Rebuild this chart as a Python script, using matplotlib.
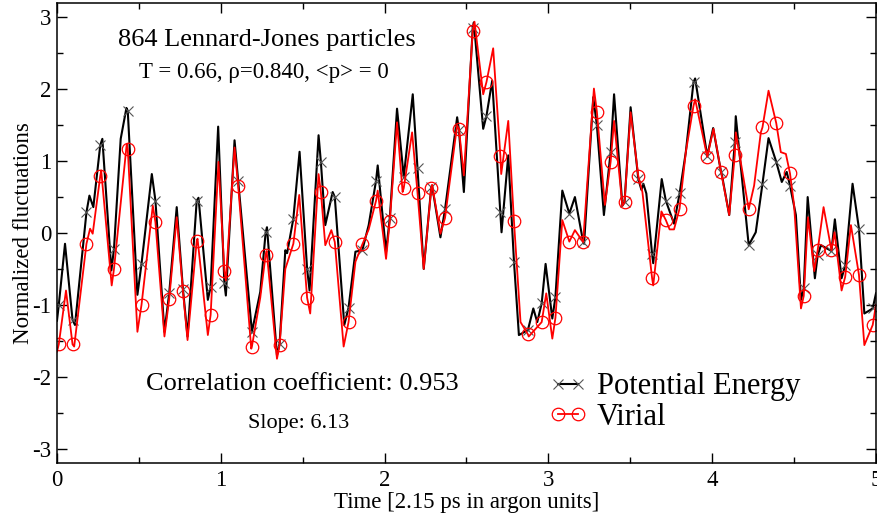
import numpy as np
import matplotlib
matplotlib.use("Agg")
from matplotlib import pyplot as plt
from matplotlib.ticker import MultipleLocator

# times where both curves carry a symbol
mark_t = [0.011, 0.095, 0.180, 0.264, 0.348, 0.432, 0.516, 0.601, 0.685, 0.769,
          0.853, 0.938, 1.022, 1.106, 1.190, 1.274, 1.359, 1.443, 1.527, 1.611,
          1.696, 1.780, 1.864, 1.948, 2.032, 2.117, 2.201, 2.285, 2.369, 2.454,
          2.538, 2.622, 2.707, 2.790, 2.875, 2.959, 3.043, 3.128, 3.212, 3.296,
          3.380, 3.465, 3.549, 3.633, 3.717, 3.801, 3.886, 3.970, 4.054, 4.138,
          4.223, 4.307, 4.391, 4.475, 4.559, 4.644, 4.728, 4.812, 4.896, 4.980]

# potential energy fluctuations (time, value)
pe_points = [
    (0.000, -1.22), (0.011, -1.00), (0.049, -0.15), (0.095, -1.21), (0.110, -1.28),
    (0.180, 0.29), (0.198, 0.52), (0.222, 0.36), (0.264, 1.22), (0.277, 1.31),
    (0.332, -0.52), (0.348, -0.22), (0.389, 1.31), (0.424, 1.74), (0.432, 1.70),
    (0.491, -0.86), (0.516, -0.43), (0.579, 0.82), (0.601, 0.45), (0.656, -1.375),
    (0.685, -0.84), (0.731, 0.36), (0.769, -0.78), (0.797, -1.44), (0.853, 0.45),
    (0.864, 0.49), (0.921, -0.93), (0.938, -0.75), (0.984, 1.48), (1.022, -0.70),
    (1.031, -0.87), (1.084, 1.29), (1.106, 0.73), (1.190, -1.375), (1.241, -0.82),
    (1.274, 0.01), (1.282, 0.08), (1.343, -1.70), (1.359, -1.54), (1.394, -0.24),
    (1.405, -0.28), (1.443, 0.20), (1.481, 1.13), (1.527, -0.50), (1.542, -0.80),
    (1.597, 1.36), (1.611, 0.99), (1.638, 0.11), (1.683, 0.57), (1.696, 0.50),
    (1.754, -1.28), (1.780, -1.04), (1.822, -0.26), (1.864, -0.24), (1.903, 0.11),
    (1.948, 0.73), (1.958, 0.94), (2.009, -0.26), (2.032, 0.21), (2.076, 1.73),
    (2.117, 0.78), (2.172, 1.93), (2.201, 0.90), (2.239, -0.50), (2.285, 0.64),
    (2.290, 0.66), (2.341, -0.06), (2.369, 0.33), (2.443, 1.61), (2.454, 1.43),
    (2.484, 0.57), (2.538, 2.85), (2.545, 2.93), (2.602, 1.45), (2.622, 1.63),
    (2.657, 2.12), (2.707, 0.29), (2.714, 0.01), (2.755, 1.08), (2.790, -0.40),
    (2.820, -1.42), (2.875, -1.35), (2.908, -1.05), (2.932, -1.24), (2.959, -0.98),
    (2.983, -0.43), (3.024, -1.19), (3.043, -0.89), (3.085, 0.59), (3.128, 0.27),
    (3.162, 0.50), (3.212, -0.12), (3.218, -0.15), (3.274, 1.89), (3.296, 1.50),
    (3.339, 0.25), (3.380, 1.125), (3.401, 1.93), (3.452, 0.38), (3.465, 0.43),
    (3.502, 1.75), (3.549, 0.75), (3.568, 0.60), (3.580, 0.685), (3.598, 0.55),
    (3.633, -0.29), (3.640, -0.42), (3.692, 0.75), (3.717, 0.45), (3.767, 0.13),
    (3.801, 0.55), (3.839, 1.125), (3.886, 2.10), (3.896, 2.15), (3.970, 1.07),
    (4.006, 1.46), (4.054, 0.85), (4.060, 0.80), (4.104, 0.25), (4.138, 1.26),
    (4.144, 1.625), (4.223, -0.17), (4.266, 0.01), (4.307, 0.685), (4.344, 1.32),
    (4.391, 0.99), (4.425, 0.71), (4.455, 0.85), (4.475, 0.66), (4.511, 0.25),
    (4.542, -0.93), (4.559, -0.77), (4.583, 0.50), (4.627, -0.63), (4.644, -0.31),
    (4.664, -0.17), (4.728, -0.25), (4.749, 0.19), (4.790, -0.63), (4.812, -0.45),
    (4.857, 0.685), (4.896, 0.06), (4.929, -1.12), (4.980, -1.05), (5.000, -0.84),
]

# virial fluctuations (time, value)
vir_points = [
    (0.000, -1.65), (0.011, -1.55), (0.055, -0.80), (0.095, -1.55), (0.105, -1.58),
    (0.180, -0.15), (0.202, 0.06), (0.218, -0.01), (0.264, 0.79), (0.270, 0.87),
    (0.334, -0.73), (0.348, -0.50), (0.426, 1.24), (0.432, 1.17), (0.491, -1.375),
    (0.516, -1.00), (0.585, 0.38), (0.601, 0.15), (0.656, -1.44), (0.685, -0.92),
    (0.731, 0.22), (0.769, -0.81), (0.797, -1.49), (0.853, -0.11), (0.858, -0.08),
    (0.921, -1.42), (0.938, -1.14), (0.986, 0.99), (1.022, -0.53), (1.031, -0.66),
    (1.084, 1.19), (1.106, 0.66), (1.186, -1.61), (1.190, -1.58), (1.241, -0.90),
    (1.274, -0.30), (1.280, -0.25), (1.343, -1.75), (1.359, -1.56), (1.394, -0.50),
    (1.443, -0.15), (1.479, 0.53), (1.527, -0.90), (1.546, -1.12), (1.597, 0.82),
    (1.611, 0.57), (1.638, -0.17), (1.675, 0.04), (1.696, -0.125), (1.750, -1.58),
    (1.780, -1.24), (1.822, -0.40), (1.864, -0.16), (1.903, 0.05), (1.948, 0.45),
    (1.958, 0.59), (2.009, -0.36), (2.032, 0.17), (2.076, 1.54), (2.110, 0.57),
    (2.117, 0.625), (2.168, 1.40), (2.201, 0.56), (2.239, -0.50), (2.285, 0.62),
    (2.290, 0.67), (2.341, -0.01), (2.369, 0.21), (2.443, 1.50), (2.454, 1.45),
    (2.484, 0.80), (2.538, 2.81), (2.549, 2.94), (2.602, 1.93), (2.622, 2.10),
    (2.663, 2.57), (2.707, 1.07), (2.712, 0.82), (2.755, 1.56), (2.790, 0.16),
    (2.830, -1.24), (2.875, -1.41), (2.880, -1.44), (2.959, -1.24), (2.987, -0.84),
    (3.024, -1.47), (3.043, -1.18), (3.085, 0.18), (3.128, -0.12), (3.162, 0.04),
    (3.212, -0.125), (3.278, 2.01), (3.296, 1.69), (3.345, 0.39), (3.380, 0.99),
    (3.401, 1.56), (3.452, 0.38), (3.465, 0.43), (3.502, 1.68), (3.549, 0.79),
    (3.574, 0.57), (3.633, -0.625), (3.640, -0.73), (3.690, 0.30), (3.717, 0.18),
    (3.740, 0.05), (3.767, 0.05), (3.801, 0.34), (3.839, 1.125), (3.886, 1.77),
    (3.896, 1.86), (3.970, 1.06), (4.008, 1.45), (4.054, 0.85), (4.104, 0.25),
    (4.138, 1.08), (4.144, 1.40), (4.223, 0.33), (4.256, 0.66), (4.297, 1.40),
    (4.307, 1.47), (4.344, 1.98), (4.391, 1.53), (4.419, 1.125), (4.450, 1.10),
    (4.475, 0.83), (4.500, 0.39), (4.542, -1.05), (4.559, -0.875), (4.585, 0.22),
    (4.623, -0.53), (4.644, -0.24), (4.680, 0.36), (4.728, -0.24), (4.747, 0.01),
    (4.790, -0.80), (4.812, -0.61), (4.847, 0.11), (4.896, -0.58), (4.929, -1.56),
    (4.980, -1.28), (5.000, -1.00),
]

title_lines = ["864 Lennard-Jones particles", "T = 0.66, \u03c1=0.840, <p> = 0"]
corr_text = "Correlation coefficient: 0.953"
slope_text = "Slope: 6.13"


def split(points):
    pts = sorted(points)
    t = np.array([p[0] for p in pts])
    v = np.array([p[1] for p in pts])
    marks = [i for i, p in enumerate(pts) if p[0] in mark_t]
    return t, v, marks


plt.rcParams['font.family'] = ['Liberation Serif', 'DejaVu Serif']
plt.rcParams['axes.unicode_minus'] = False

fig = plt.figure(figsize=(8.78, 5.18), dpi=100)
ax = fig.add_axes([0.0649, 0.1062, 0.9328, 0.888])

t_pe, v_pe, m_pe = split(pe_points)
t_vi, v_vi, m_vi = split(vir_points)

ax.plot(t_pe, v_pe, color='black', lw=1.5, marker='x', markevery=m_pe,
        ms=7.5, mew=0.8, mec='#555555', label='Potential Energy')
ax.plot(t_vi, v_vi, color='red', lw=1.3, marker='o', markevery=m_vi,
        ms=9, mew=0.9, mfc='none', mec='red', label='Virial')

ax.set_xlim(0, 5)
ax.set_ylim(-3.2, 3.2)
ax.xaxis.set_major_locator(MultipleLocator(1))
ax.xaxis.set_minor_locator(MultipleLocator(0.5))
ax.yaxis.set_major_locator(MultipleLocator(1))
ax.yaxis.set_minor_locator(MultipleLocator(0.5))
ax.tick_params(which='both', direction='in', top=True, right=True, labelsize=16.5)
ax.tick_params(which='major', length=7, width=1.0)
ax.tick_params(which='minor', length=4, width=1.0)
ax.tick_params(axis='x', pad=5)
ax.tick_params(axis='y', pad=4)
for s in ax.spines.values():
    s.set_linewidth(1.1)

ax.set_xlabel('Time [2.15 ps in argon units]', fontsize=16.5, labelpad=1)
ax.set_ylabel('Normalized fluctuations', fontsize=16.5, labelpad=-1)

ax.text(1.284, 2.60, title_lines[0], fontsize=19, ha='center', va='baseline')
ax.text(1.263, 2.15, title_lines[1], fontsize=16.5, ha='center', va='baseline')
ax.text(1.50, -2.18, corr_text, fontsize=19, ha='center', va='baseline')
ax.text(1.478, -2.72, slope_text, fontsize=16, ha='center', va='baseline')

ax.legend(loc='upper left', bbox_to_anchor=(0.601, 0.197), frameon=False,
          fontsize=22, numpoints=2, handlelength=1.25, handletextpad=0.3,
          labelspacing=0.05, borderpad=0, borderaxespad=0)

fig.savefig('out.png', dpi=100)
